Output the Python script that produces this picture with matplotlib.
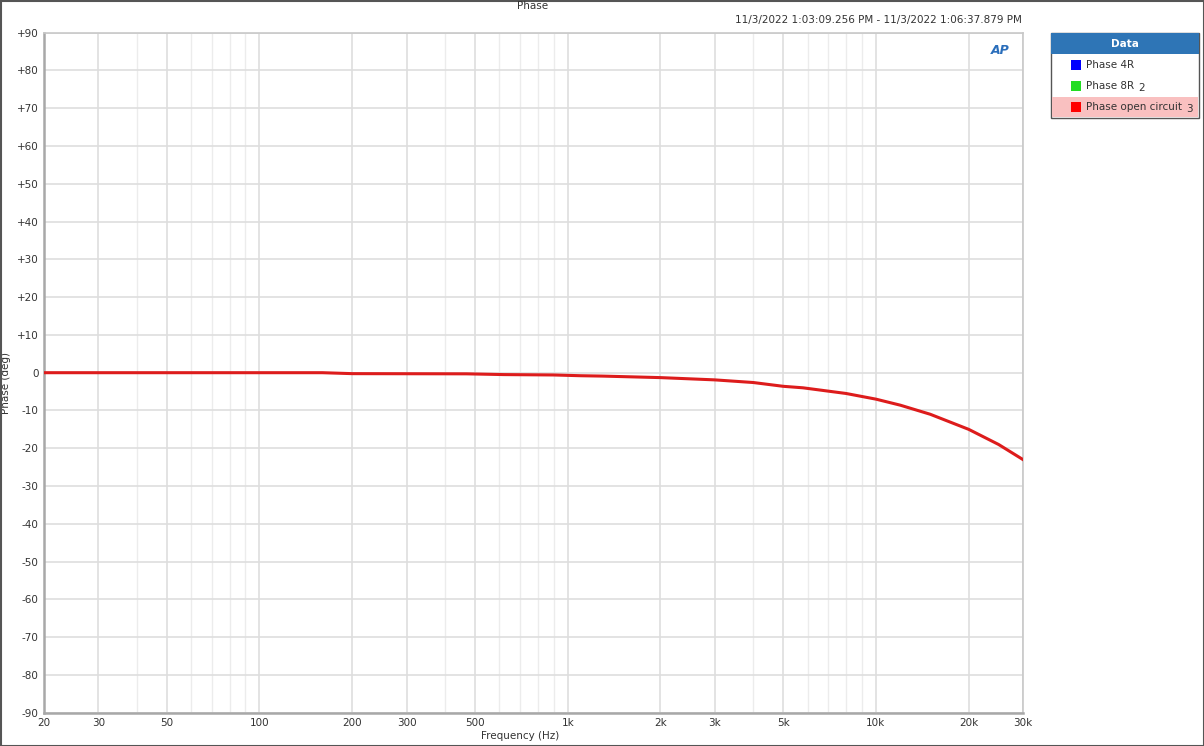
import matplotlib
matplotlib.use("Agg")
import matplotlib.pyplot as plt
from matplotlib.patches import Rectangle
from matplotlib.ticker import FixedLocator, FixedFormatter, NullFormatter

# Data
freq_hz = [20, 50, 100, 160, 200, 470, 620, 900, 1100, 1300, 2000, 3000, 4000, 5000,
           5800, 8000, 10000, 12000, 15000, 20000, 25000, 30000]
phase_open = [0.0, 0.0, 0.0, 0.0, -0.25, -0.3, -0.5, -0.6, -0.8, -0.9, -1.3, -1.9, -2.6, -3.6,
              -4.0, -5.5, -7.0, -8.6, -11.0, -15.0, -19.0, -23.0]

x_ticks = [20, 30, 50, 100, 200, 300, 500, 1000, 2000, 3000, 5000, 10000, 20000, 30000]
x_tick_labels = ["20", "30", "50", "100", "200", "300", "500", "1k", "2k", "3k", "5k", "10k", "20k", "30k"]
x_minor = [40, 60, 70, 80, 90, 400, 600, 700, 800, 900, 4000, 6000, 7000, 8000, 9000]
y_ticks = list(range(-90, 91, 10))
y_tick_labels = [("+%d" % v if v > 0 else "%d" % v) for v in y_ticks]

legend_names = ["Phase 4R", "Phase 8R", "Phase open circuit"]
legend_nums = ["", "2", "3"]
legend_colors = ["#0000ff", "#22dd22", "#ff0000"]

W, H = 1204, 746
fig = plt.figure(figsize=(W / 100, H / 100), dpi=100)
fig.patch.set_facecolor("white")

top_px, bot_px = 32.7, 712.7
ax = fig.add_axes([44 / W, 1 - bot_px / H, (1023 - 44) / W, (bot_px - top_px) / H])
ax.set_xscale("log")
ax.set_xlim(20, 30000)
ax.set_ylim(-90, 90)

ax.plot(freq_hz, phase_open, color="#dd1c1c", lw=2.2, zorder=3)

ax.xaxis.set_major_locator(FixedLocator(x_ticks))
ax.xaxis.set_major_formatter(FixedFormatter(x_tick_labels))
ax.xaxis.set_minor_locator(FixedLocator(x_minor))
ax.xaxis.set_minor_formatter(NullFormatter())
ax.set_yticks(y_ticks)
ax.set_yticklabels(y_tick_labels)

ax.grid(True, which="major", color="#dedede", lw=1.2, zorder=0)
ax.grid(True, which="minor", axis="x", color="#ececec", lw=1.0, zorder=0)
ax.tick_params(axis="both", which="both", length=0, labelsize=7.5, colors="#333333", pad=4)

for s in ["left", "bottom"]:
    ax.spines[s].set_color("#a8a8a8")
    ax.spines[s].set_linewidth(1.8)
for s in ["top", "right"]:
    ax.spines[s].set_color("#c8c8c8")
    ax.spines[s].set_linewidth(1.2)

ax.set_xlabel("Frequency (Hz)", fontsize=7.5, color="#333333", labelpad=1)
ax.set_ylabel("Phase (deg)", fontsize=7.5, color="#333333")
ax.xaxis.set_label_coords((520 - 44) / (1023 - 44), -0.027)
ax.yaxis.set_label_coords(-(44 - 11) / (1023 - 44), (bot_px - 383) / (bot_px - top_px))

fig.text(533 / W, 1 - 6 / H, "Phase", fontsize=7.5, color="#333333", ha="center", va="center")
fig.text(1022 / W, 1 - 20 / H, "11/3/2022 1:03:09.256 PM - 11/3/2022 1:06:37.879 PM",
         fontsize=7.5, color="#333333", ha="right", va="center")
fig.text(1000 / W, 1 - 50 / H, "AP", fontsize=9, color="#2a6ebb", ha="center", va="center",
         fontweight="bold", style="italic")

# Legend box
lx0, ly0, lx1, ly1 = 1051, 33, 1199, 118
def rect(x0, y0, x1, y1, fc, ec="none", lw=0):
    fig.patches.append(Rectangle((x0 / W, 1 - y1 / H), (x1 - x0) / W, (y1 - y0) / H,
                                 transform=fig.transFigure, facecolor=fc, edgecolor=ec,
                                 lw=lw, figure=fig))
rect(lx0, ly0, lx1, ly1, "white", "#555555", 1.0)
rect(lx0, ly0, lx1, 54, "#2e75b6")
rect(lx0 + 1, 97, lx1 - 1, ly1 - 1, "#f9c0c0")
fig.text((lx0 + lx1) / 2 / W, 1 - 44 / H, "Data", fontsize=7.5, color="white",
         ha="center", va="center", fontweight="bold")
row_y = [65, 86, 107]
fig.canvas.draw()
renderer = fig.canvas.get_renderer()
for yy, name, num, col in zip(row_y, legend_names, legend_nums, legend_colors):
    rect(1071, yy - 5, 1081, yy + 5, col)
    t = fig.text(1086 / W, 1 - yy / H, name, fontsize=7.5, color="#333333",
                 ha="left", va="center")
    if num:
        bb = t.get_window_extent(renderer=renderer)
        fig.text((bb.x1 + 4) / W, 1 - (yy + 2) / H, num, fontsize=7.5, color="#333333",
                 ha="left", va="center")

# Outer frame
rect(0.5, 0.5, W - 0.5, H - 0.5, "none", "#555555", 1.5)

fig.savefig("out.png", dpi=100, facecolor="white")
